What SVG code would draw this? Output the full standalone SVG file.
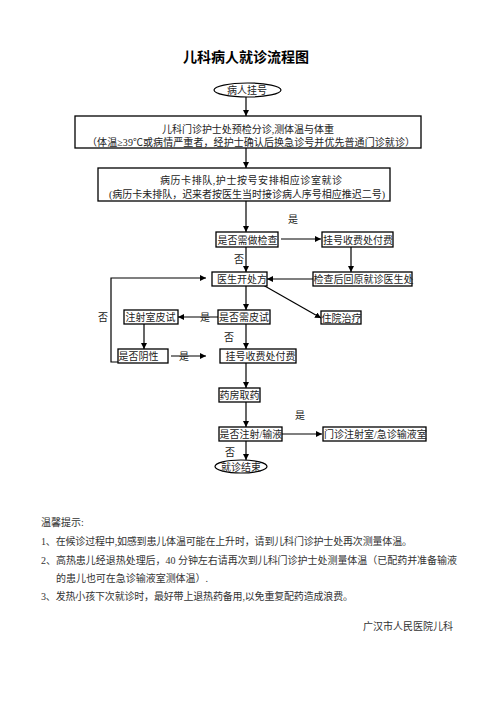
<svg xmlns="http://www.w3.org/2000/svg" width="496" height="702" viewBox="0 0 496 702">
<defs>
<marker id="ah" viewBox="0 0 10 10" refX="10" refY="5" markerWidth="6" markerHeight="6" markerUnits="userSpaceOnUse" orient="auto">
<path d="M0,0 L10,5 L0,10 z" fill="#000"/>
</marker>
<style>
.bx{fill:#fff;stroke:#000;stroke-width:1.3}
.t{font-family:"Liberation Serif","Noto Sans CJK SC",serif;font-size:10px;fill:#222}
.c{text-anchor:middle}
.ln{fill:none;stroke:#000;stroke-width:1.2;marker-end:url(#ah)}
.pl{fill:none;stroke:#000;stroke-width:1.2}
.ti{font-family:"Noto Sans CJK SC",sans-serif;font-size:14px;font-weight:bold;fill:#000;text-anchor:middle}
.n{font-family:"Liberation Serif","Noto Sans CJK SC",serif;font-size:10px;fill:#333}
</style>
</defs>
<rect width="496" height="702" fill="#fff"/>
<text class="ti" x="246" y="62">儿科病人就诊流程图</text>

<g id="connectors">
<line class="ln" x1="246" y1="97" x2="246" y2="116"/>
<line class="ln" x1="246" y1="148" x2="246" y2="168"/>
<line class="ln" x1="246" y1="201" x2="246" y2="232"/>
<line class="ln" x1="281" y1="239" x2="321" y2="239"/>
<line class="ln" x1="351" y1="247" x2="351" y2="272"/>
<line class="ln" x1="313" y1="279" x2="267" y2="279"/>
<line class="ln" x1="246" y1="247" x2="246" y2="272"/>
<path class="ln" d="M122,362 H111 V278 H206"/>
<line class="ln" x1="246" y1="286" x2="246" y2="310"/>
<line class="ln" x1="263" y1="285" x2="321" y2="318"/>
<line class="ln" x1="218" y1="317" x2="178" y2="317"/>
<line class="ln" x1="144" y1="324" x2="144" y2="349"/>
<line class="ln" x1="171" y1="356" x2="206" y2="356"/>
<line class="ln" x1="246" y1="324" x2="246" y2="349"/>
<line class="ln" x1="246" y1="363" x2="246" y2="388"/>
<line class="ln" x1="246" y1="402" x2="246" y2="427"/>
<line class="ln" x1="282" y1="434" x2="322" y2="434"/>
<line class="ln" x1="246" y1="441" x2="246" y2="460"/>
<text class="t c" x="293" y="223">是</text>
<text class="t c" x="239" y="263">否</text>
<text class="t c" x="103" y="321">否</text>
<text class="t c" x="205" y="321">是</text>
<text class="t c" x="229" y="341">否</text>
<text class="t c" x="184" y="360">是</text>
<text class="t c" x="300" y="419">是</text>
<text class="t c" x="230" y="456">否</text>
</g>

<g id="n-start">
<ellipse cx="247.5" cy="90" rx="33.5" ry="7" fill="#fff" stroke="#000" stroke-width="1.2"/>
<text class="t c" x="247" y="94">病人挂号</text>
</g>
<g id="n-triage">
<rect class="bx" x="75" y="116" width="346" height="32"/>
<text class="t c" x="248" y="133" textLength="172">儿科门诊护士处预检分诊,测体温与体重</text>
<text class="t c" x="251" y="146" textLength="328">（体温≥39℃或病情严重者，经护士确认后换急诊号并优先普通门诊就诊）</text>
</g>
<g id="n-queue">
<rect class="bx" x="98" y="168" width="292" height="33"/>
<text class="t c" x="251" y="184" textLength="182">病历卡排队,护士按号安排相应诊室就诊</text>
<text class="t c" x="247" y="198" textLength="276">(病历卡未排队，迟来者按医生当时接诊病人序号相应推迟二号)</text>
</g>
<g id="n-needcheck">
<rect class="bx" x="216" y="232" width="62" height="15"/>
<text class="t" x="217.5" y="243.5">是否需做检查</text>
</g>
<g id="n-pay1">
<rect class="bx" x="322" y="232" width="71" height="15"/>
<text class="t" x="323" y="243.5">挂号收费处付费</text>
</g>
<g id="n-back">
<rect class="bx" x="313" y="272" width="99" height="14"/>
<text class="t" x="313.5" y="283">检查后回原就诊医生处</text>
</g>
<g id="n-doctor">
<rect class="bx" x="212" y="272" width="55" height="14"/>
<text class="t" x="217" y="283">医生开处方</text>
</g>
<g id="n-hosp">
<rect class="bx" x="321" y="311" width="40" height="13"/>
<text class="t" x="321.5" y="321.5">住院治疗</text>
</g>
<g id="n-needskin">
<rect class="bx" x="218" y="310" width="52" height="14"/>
<text class="t" x="219" y="321">是否需皮试</text>
</g>
<g id="n-skintest">
<rect class="bx" x="124" y="310" width="54" height="14"/>
<text class="t" x="125.5" y="321">注射室皮试</text>
</g>
<g id="n-negative">
<rect class="bx" x="118" y="349" width="50" height="14"/>
<text class="t" x="118.5" y="360">是否阴性</text>
</g>
<g id="n-pay2">
<rect class="bx" x="220" y="349" width="76" height="14"/>
<text class="t" x="225.5" y="360">挂号收费处付费</text>
</g>
<g id="n-pharmacy">
<rect class="bx" x="219" y="388" width="41" height="14"/>
<text class="t" x="219.5" y="399">药房取药</text>
</g>
<g id="n-inject">
<rect class="bx" x="219" y="427" width="63" height="14"/>
<text class="t" x="219.5" y="438">是否注射/输液</text>
</g>
<g id="n-room">
<rect class="bx" x="323" y="427" width="103" height="14"/>
<text class="t" x="324" y="438">门诊注射室/急诊输液室</text>
</g>
<g id="n-end">
<ellipse cx="241" cy="466.5" rx="26" ry="6.5" fill="#fff" stroke="#000" stroke-width="1.2"/>
<text class="t c" x="241" y="470.5">就诊结束</text>
</g>

<g id="notes">
<text class="n" x="41" y="526">温馨提示:</text>
<text class="n" x="41" y="545" textLength="371">1、在候诊过程中,如感到患儿体温可能在上升时，请到儿科门诊护士处再次测量体温。</text>
<text class="n" x="41" y="564" textLength="416">2、高热患儿经退热处理后，40 分钟左右请再次到儿科门诊护士处测量体温（已配药并准备输液</text>
<text class="n" x="56" y="582" textLength="152">的患儿也可在急诊输液室测体温）.</text>
<text class="n" x="41" y="600" textLength="312">3、发热小孩下次就诊时，最好带上退热药备用,以免重复配药造成浪费。</text>
<text class="n" x="453" y="630" text-anchor="end">广汉市人民医院儿科</text>
</g>
</svg>
